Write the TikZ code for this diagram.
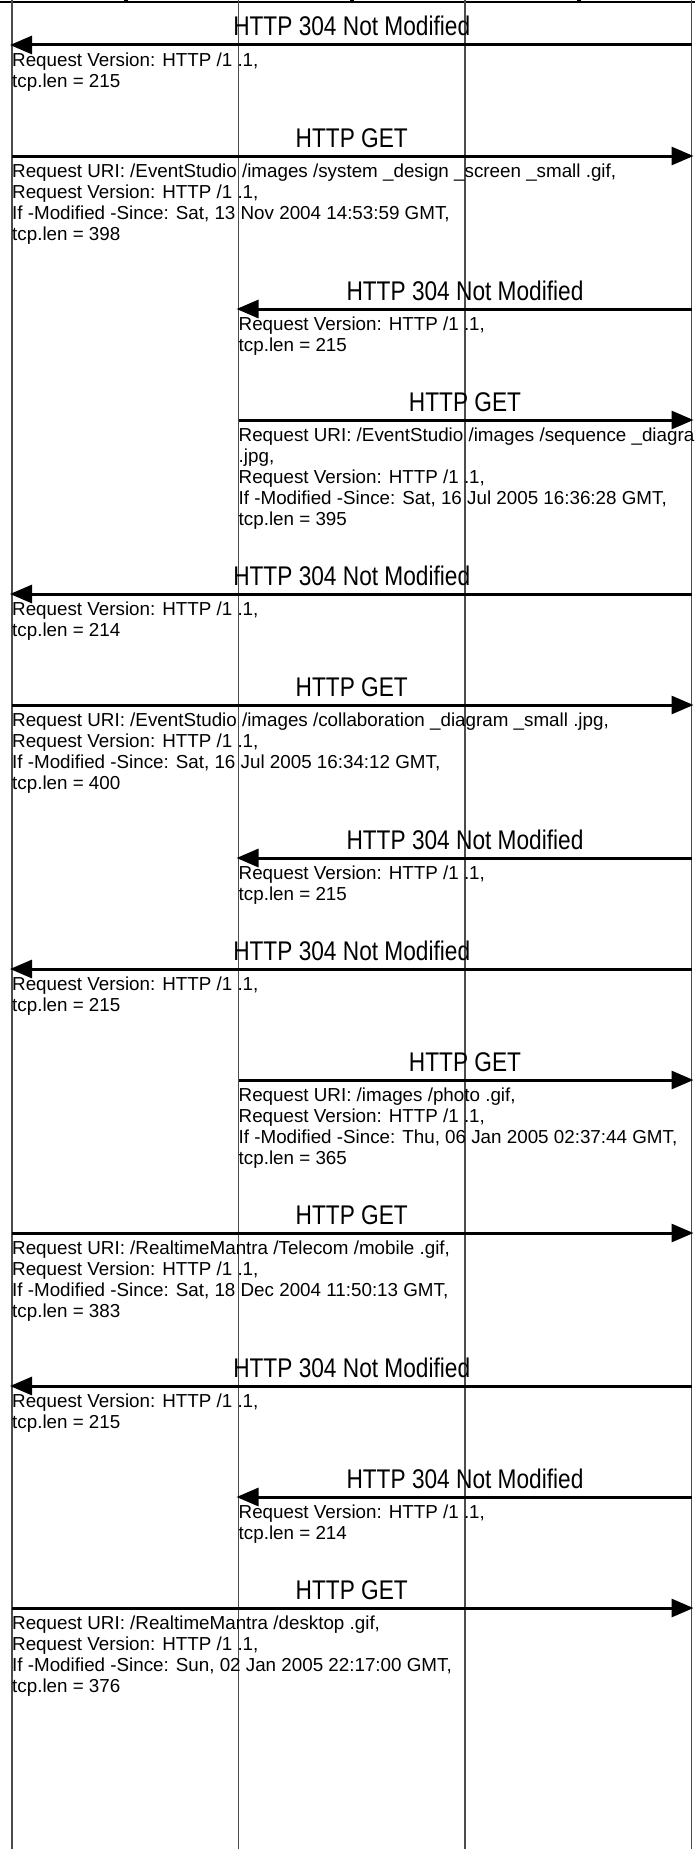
\documentclass[tikz,border=0pt]{standalone}
\usepackage{fontspec}
\setmainfont{Liberation Sans}
\newfontfamily\labelfont[FakeStretch=0.84]{Liberation Sans}
\usetikzlibrary{arrows.meta}
\tikzset{
  lifeline/.style={line width=1.3pt, draw=black!70},
  msgarrow/.style={line width=3pt, -{Triangle[length=22pt,width=18pt]}, shorten >=-2pt},
  msglabel/.style={anchor=base, inner sep=0pt, font=\labelfont\fontsize{27}{30}\selectfont},
  msgtext/.style={anchor=base west, inner sep=0pt, align=left, font=\fontsize{18.8}{21}\selectfont},
  headerline/.style={line width=2.5pt}
}
\begin{document}
\begin{tikzpicture}[x=1pt,y=-1pt]
\useasboundingbox (0,0) rectangle (695,1849);
\clip (0,0) rectangle (695,1849);
% header remnants
\coordinate (hl) at (0,2);
\coordinate (hr) at (695,2);
\draw[headerline] (hl) -- (hr);
\fill (123.5,0) rectangle (127.5,2);
\fill (350,0) rectangle (354,2);
\fill (576.5,0) rectangle (580.5,2);
% lifelines
\coordinate (Atop) at (12,0);     \coordinate (Abot) at (12,1849);
\coordinate (Btop) at (238.5,0);  \coordinate (Bbot) at (238.5,1849);
\coordinate (Ctop) at (465,0);    \coordinate (Cbot) at (465,1849);
\coordinate (Dtop) at (691.5,0);  \coordinate (Dbot) at (691.5,1849);
\draw[lifeline] (Atop) -- (Abot);
\draw[lifeline] (Btop) -- (Bbot);
\draw[lifeline] (Ctop) -- (Cbot);
\draw[lifeline] (Dtop) -- (Dbot);

% (text node anchor = baseline of its last line)
% message 1
\coordinate (m1s) at (691.5,45); \coordinate (m1e) at (12,45);
\draw[msgarrow] (m1s) -- (m1e);
\node[msglabel] (l1) at (351.75,36) {HTTP 304 Not Modified};
\node[msgtext] (t1) at (12,87.5) {Request Version: HTTP /1 .1,\\tcp.len = 215};

% message 2
\coordinate (m2s) at (12,156); \coordinate (m2e) at (691.5,156);
\draw[msgarrow] (m2s) -- (m2e);
\node[msglabel] (l2) at (351.75,147) {HTTP GET};
\node[msgtext] (t2) at (12,240.5) {Request URI: /EventStudio /images /system \_design \_screen \_small .gif,\\Request Version: HTTP /1 .1,\\If -Modified -Since: Sat, 13 Nov 2004 14:53:59 GMT,\\tcp.len = 398};

% message 3
\coordinate (m3s) at (691.5,309); \coordinate (m3e) at (238.5,309);
\draw[msgarrow] (m3s) -- (m3e);
\node[msglabel] (l3) at (465,300) {HTTP 304 Not Modified};
\node[msgtext] (t3) at (238.5,351.5) {Request Version: HTTP /1 .1,\\tcp.len = 215};

% message 4
\coordinate (m4s) at (238.5,420); \coordinate (m4e) at (691.5,420);
\draw[msgarrow] (m4s) -- (m4e);
\node[msglabel] (l4) at (465,411) {HTTP GET};
\node[msgtext] (t4) at (238.5,525.5) {Request URI: /EventStudio /images /sequence \_diagram\\.jpg,\\Request Version: HTTP /1 .1,\\If -Modified -Since: Sat, 16 Jul 2005 16:36:28 GMT,\\tcp.len = 395};

% message 5
\coordinate (m5s) at (691.5,594); \coordinate (m5e) at (12,594);
\draw[msgarrow] (m5s) -- (m5e);
\node[msglabel] (l5) at (351.75,585) {HTTP 304 Not Modified};
\node[msgtext] (t5) at (12,636.5) {Request Version: HTTP /1 .1,\\tcp.len = 214};

% message 6
\coordinate (m6s) at (12,705); \coordinate (m6e) at (691.5,705);
\draw[msgarrow] (m6s) -- (m6e);
\node[msglabel] (l6) at (351.75,696) {HTTP GET};
\node[msgtext] (t6) at (12,789.5) {Request URI: /EventStudio /images /collaboration \_diagram \_small .jpg,\\Request Version: HTTP /1 .1,\\If -Modified -Since: Sat, 16 Jul 2005 16:34:12 GMT,\\tcp.len = 400};

% message 7
\coordinate (m7s) at (691.5,858); \coordinate (m7e) at (238.5,858);
\draw[msgarrow] (m7s) -- (m7e);
\node[msglabel] (l7) at (465,849) {HTTP 304 Not Modified};
\node[msgtext] (t7) at (238.5,900.5) {Request Version: HTTP /1 .1,\\tcp.len = 215};

% message 8
\coordinate (m8s) at (691.5,969); \coordinate (m8e) at (12,969);
\draw[msgarrow] (m8s) -- (m8e);
\node[msglabel] (l8) at (351.75,960) {HTTP 304 Not Modified};
\node[msgtext] (t8) at (12,1011.5) {Request Version: HTTP /1 .1,\\tcp.len = 215};

% message 9
\coordinate (m9s) at (238.5,1080); \coordinate (m9e) at (691.5,1080);
\draw[msgarrow] (m9s) -- (m9e);
\node[msglabel] (l9) at (465,1071) {HTTP GET};
\node[msgtext] (t9) at (238.5,1164.5) {Request URI: /images /photo .gif,\\Request Version: HTTP /1 .1,\\If -Modified -Since: Thu, 06 Jan 2005 02:37:44 GMT,\\tcp.len = 365};

% message 10
\coordinate (m10s) at (12,1233); \coordinate (m10e) at (691.5,1233);
\draw[msgarrow] (m10s) -- (m10e);
\node[msglabel] (l10) at (351.75,1224) {HTTP GET};
\node[msgtext] (t10) at (12,1317.5) {Request URI: /RealtimeMantra /Telecom /mobile .gif,\\Request Version: HTTP /1 .1,\\If -Modified -Since: Sat, 18 Dec 2004 11:50:13 GMT,\\tcp.len = 383};

% message 11
\coordinate (m11s) at (691.5,1386); \coordinate (m11e) at (12,1386);
\draw[msgarrow] (m11s) -- (m11e);
\node[msglabel] (l11) at (351.75,1377) {HTTP 304 Not Modified};
\node[msgtext] (t11) at (12,1428.5) {Request Version: HTTP /1 .1,\\tcp.len = 215};

% message 12
\coordinate (m12s) at (691.5,1497); \coordinate (m12e) at (238.5,1497);
\draw[msgarrow] (m12s) -- (m12e);
\node[msglabel] (l12) at (465,1488) {HTTP 304 Not Modified};
\node[msgtext] (t12) at (238.5,1539.5) {Request Version: HTTP /1 .1,\\tcp.len = 214};

% message 13
\coordinate (m13s) at (12,1608); \coordinate (m13e) at (691.5,1608);
\draw[msgarrow] (m13s) -- (m13e);
\node[msglabel] (l13) at (351.75,1599) {HTTP GET};
\node[msgtext] (t13) at (12,1692.5) {Request URI: /RealtimeMantra /desktop .gif,\\Request Version: HTTP /1 .1,\\If -Modified -Since: Sun, 02 Jan 2005 22:17:00 GMT,\\tcp.len = 376};
\end{tikzpicture}
\end{document}
